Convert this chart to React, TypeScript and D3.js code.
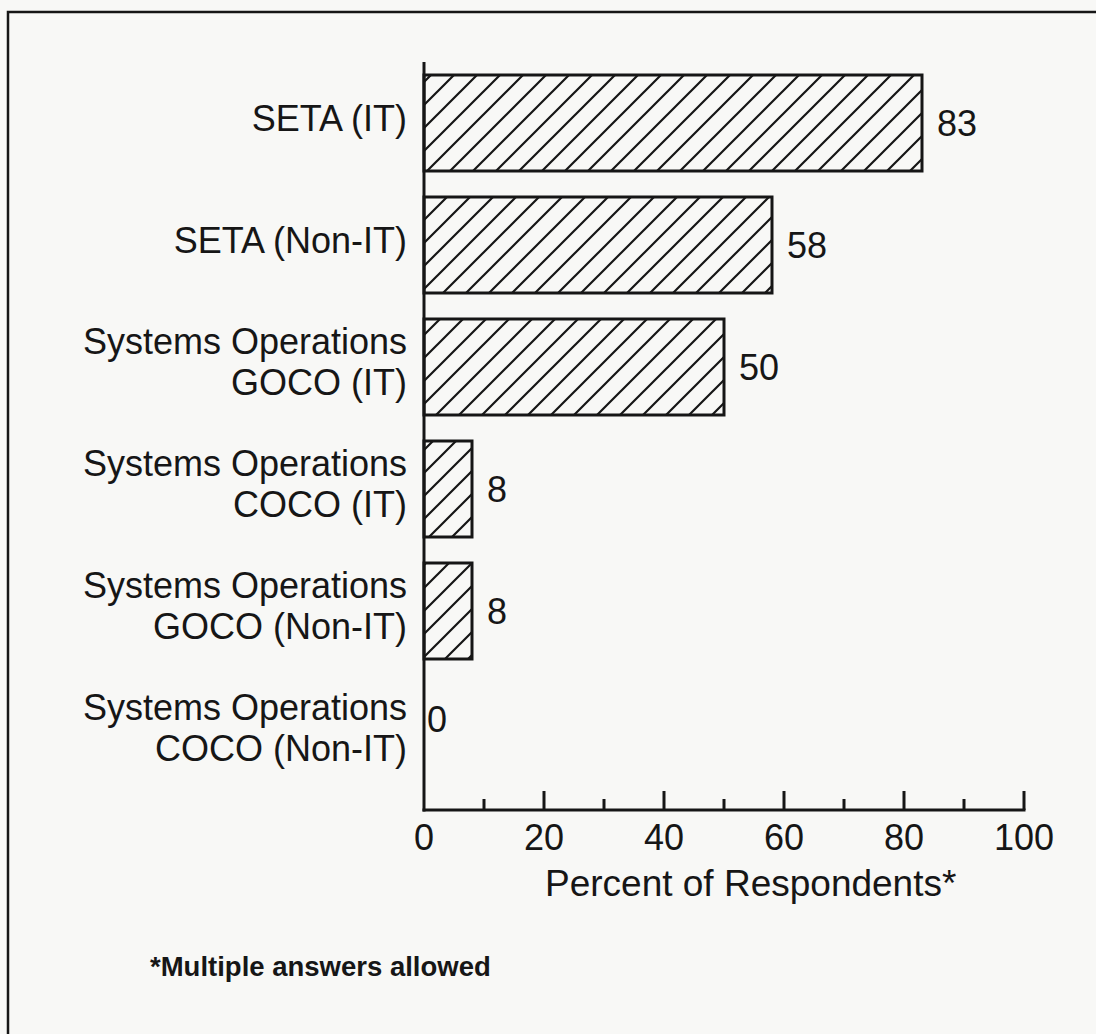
import React from "react";
import * as d3 from "d3";

const categories: string[][] = [
  ["SETA (IT)"],
  ["SETA (Non-IT)"],
  ["Systems Operations", "GOCO (IT)"],
  ["Systems Operations", "COCO (IT)"],
  ["Systems Operations", "GOCO (Non-IT)"],
  ["Systems Operations", "COCO (Non-IT)"],
];
const values: number[] = [83, 58, 50, 8, 8, 0];
const ticksMajor: number[] = [0, 20, 40, 60, 80, 100];
const ticksMinor: number[] = [10, 30, 50, 70, 90];
const axisTitle = "Percent of Respondents*";
const footnote = "*Multiple answers allowed";

const W = 1096;
const H = 1034;
const FONT = "'Liberation Sans', Arial, Helvetica, sans-serif";
const INK = "#161616";
const BG = "#f8f8f6";

export default function App() {
  const keys = categories.map((c) => c.join(" "));
  const x = d3.scaleLinear().domain([0, 100]).range([424, 1024]);
  const y = d3
    .scaleBand<string>()
    .domain(keys)
    .range([62, 794])
    .paddingInner(26 / 122)
    .paddingOuter(13 / 122);
  const baseY = 810;
  const bw = y.bandwidth();
  const LINE = 41;

  return (
    <svg
      width={W}
      height={H}
      style={{ position: "absolute", left: 0, top: 0, background: BG }}
    >
      <defs>
        <pattern id="hatch" patternUnits="userSpaceOnUse" width={23} height={23}>
          <path
            d="M0,23 L23,0 M-6,6 L6,-6 M17,29 L29,17"
            stroke={INK}
            strokeWidth={2.2}
            fill="none"
          />
        </pattern>
      </defs>
      <rect x={0} y={0} width={W} height={H} fill={BG} />
      {/* frame */}
      <rect x={8} y={12} width={W + 20} height={H + 20} fill="none" stroke={INK} strokeWidth={2.5} />

      {/* bars */}
      {values.map((v, i) => {
        const y0 = y(keys[i])!;
        return v > 0 ? (
          <rect
            key={"b" + i}
            x={x(0)}
            y={y0}
            width={x(v) - x(0)}
            height={bw}
            fill="url(#hatch)"
            stroke={INK}
            strokeWidth={3}
          />
        ) : null;
      })}

      {/* axes */}
      <line x1={x(0)} x2={x(0)} y1={62} y2={baseY + 1.5} stroke={INK} strokeWidth={3} />
      <line x1={x(0) - 1.5} x2={x(100) + 1.5} y1={baseY} y2={baseY} stroke={INK} strokeWidth={3} />
      {ticksMajor.map((t) => (
        <g key={"M" + t}>
          {t > 0 && (
            <line x1={x(t)} x2={x(t)} y1={baseY} y2={baseY - 19} stroke={INK} strokeWidth={3} />
          )}
          <text
            x={x(t)}
            y={baseY + 40}
            textAnchor="middle"
            fontFamily={FONT}
            fontSize={36}
            fill={INK}
          >
            {t}
          </text>
        </g>
      ))}
      {ticksMinor.map((t) => (
        <line key={"m" + t} x1={x(t)} x2={x(t)} y1={baseY} y2={baseY - 11} stroke={INK} strokeWidth={3} />
      ))}

      {/* category labels */}
      {categories.map((lines, i) => {
        const c = y(keys[i])! + bw / 2;
        const first = lines.length === 1 ? c - 5 : c - 5 - LINE / 2;
        return (
          <text
            key={"c" + i}
            x={407}
            y={first}
            textAnchor="end"
            fontFamily={FONT}
            fontSize={36}
            fill={INK}
          >
            {lines.map((ln, j) => (
              <tspan key={j} x={407} dy={j === 0 ? "0.36em" : LINE}>
                {ln}
              </tspan>
            ))}
          </text>
        );
      })}

      {/* value labels */}
      {values.map((v, i) => {
        const c = y(keys[i])! + bw / 2;
        const yy = v > 0 ? c : c - 14;
        return (
          <text
            key={"v" + i}
            x={x(v) + (v > 0 ? 15 : 3)}
            y={yy}
            dy="0.36em"
            fontFamily={FONT}
            fontSize={36}
            fill={INK}
          >
            {v}
          </text>
        );
      })}

      {/* axis title */}
      <text x={545} y={896} fontFamily={FONT} fontSize={37} fill={INK}>
        {axisTitle}
      </text>

      {/* footnote */}
      <text x={150} y={976} fontFamily={FONT} fontSize={27.5} fontWeight="bold" fill={INK}>
        {footnote}
      </text>
    </svg>
  );
}
